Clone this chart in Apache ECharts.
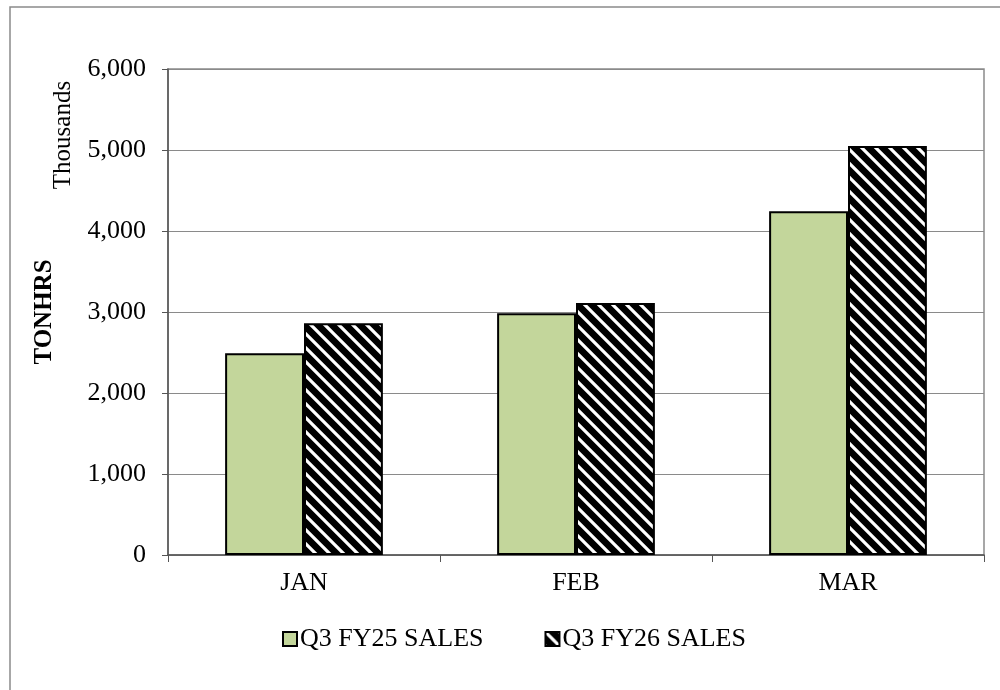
<!DOCTYPE html>
<html>
<head>
<meta charset="utf-8">
<script src="https://cdn.jsdelivr.net/npm/echarts@6/dist/echarts.min.js"></script>
<style>
  html, body { margin: 0; padding: 0; background: #ffffff; }
  #chart { width: 1000px; height: 690px; }
</style>
</head>
<body>
<div id="chart"></div>
<script>
// Monthly ton-hour sales, in thousands
const months = ['JAN', 'FEB', 'MAR'];
const fy25Sales = [2490, 2985, 4245];
const fy26Sales = [2860, 3110, 5050];
const seriesNames = ['Q3 FY25 SALES', 'Q3 FY26 SALES'];
const yTicks = { min: 0, max: 6000, step: 1000 };

const FONT = '"Liberation Serif", "Times New Roman", serif';

// Black fill with thin white diagonal stripes (top-left to bottom-right)
function stripePattern() {
  const s = 14;
  const c = document.createElement('canvas');
  c.width = s; c.height = s;
  const g = c.getContext('2d');
  g.fillStyle = '#000000';
  g.fillRect(0, 0, s, s);
  g.strokeStyle = '#ffffff';
  g.lineWidth = 3.2;
  g.beginPath();
  g.moveTo(-2, -2); g.lineTo(s + 2, s + 2);
  g.moveTo(s - 2, -2); g.lineTo(s + 2, 2);
  g.moveTo(-2, s - 2); g.lineTo(2, s + 2);
  g.stroke();
  return c;
}

const chart = echarts.init(document.getElementById('chart'), null, { renderer: 'canvas' });

chart.setOption({
  animation: false,
  backgroundColor: '#ffffff',
  textStyle: { fontFamily: FONT },
  graphic: [
    {
      type: 'rect',
      shape: { x: 10, y: 7, width: 1000, height: 700 },
      style: { fill: 'none', stroke: '#8a8a8a', lineWidth: 1.5 },
      silent: true
    },
    {
      type: 'text',
      x: 45, y: 312, rotation: Math.PI / 2,
      style: {
        text: 'TONHRS', fontFamily: FONT, fontSize: 25, fontWeight: 'bold',
        fill: '#000000', align: 'center', verticalAlign: 'middle'
      }
    },
    {
      type: 'text',
      x: 63, y: 135, rotation: Math.PI / 2,
      style: {
        text: 'Thousands', fontFamily: FONT, fontSize: 25,
        fill: '#000000', align: 'center', verticalAlign: 'middle'
      }
    }
  ],
  legend: {
    top: 621,
    left: 277,
    itemWidth: 14,
    itemHeight: 14,
    itemGap: 61,
    icon: 'rect',
    textStyle: { fontFamily: FONT, fontSize: 26, color: '#000000', padding: [0, 0, 0, -2] },
    data: seriesNames
  },
  grid: {
    left: 168, right: 16, top: 69, bottom: 135,
    show: true, borderColor: '#8a8a8a', borderWidth: 1.5
  },
  xAxis: {
    type: 'category',
    data: months,
    axisLine: { lineStyle: { color: '#555555', width: 1.5 } },
    axisTick: { show: true, length: 7, lineStyle: { color: '#555555' } },
    axisLabel: { fontFamily: FONT, fontSize: 26, color: '#000000', margin: 15 }
  },
  yAxis: {
    type: 'value',
    min: yTicks.min, max: yTicks.max, interval: yTicks.step,
    axisLine: { show: true, lineStyle: { color: '#555555', width: 1.5 } },
    axisTick: { show: true, length: 6, lineStyle: { color: '#555555' } },
    splitLine: { lineStyle: { color: '#8a8a8a', width: 1.2 } },
    axisLabel: {
      fontFamily: FONT, fontSize: 26, color: '#000000', margin: 22,
      formatter: v => v.toLocaleString('en-US')
    }
  },
  series: [
    {
      name: seriesNames[0],
      type: 'bar',
      data: fy25Sales,
      barGap: '0%',
      barCategoryGap: '42%',
      itemStyle: { color: '#c3d69b', borderColor: '#000000', borderWidth: 2 }
    },
    {
      name: seriesNames[1],
      type: 'bar',
      data: fy26Sales,
      itemStyle: {
        color: { image: stripePattern(), repeat: 'repeat' },
        borderColor: '#000000', borderWidth: 2
      }
    }
  ]
});
</script>
</body>
</html>
